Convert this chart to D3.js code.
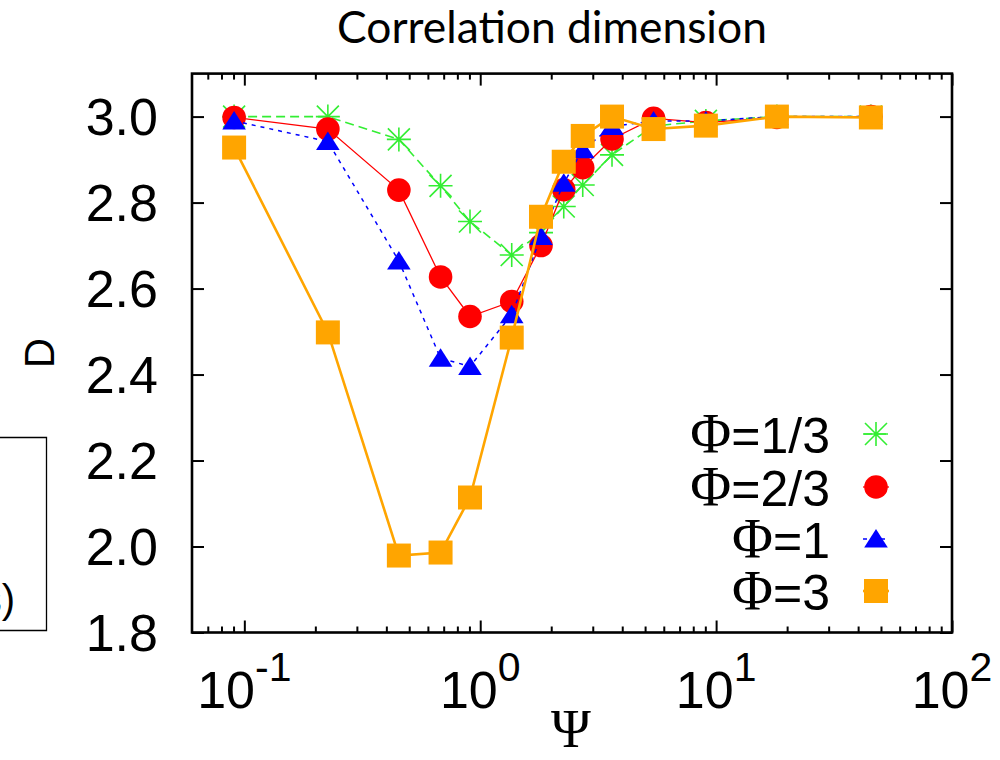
<!DOCTYPE html>
<html>
<head>
<meta charset="utf-8">
<script src="https://cdn.jsdelivr.net/npm/d3@7"></script>
<style>
  body { margin: 0; background: #fff; }
  svg { display: block; }
</style>
</head>
<body>
<div id="chart"></div>
<script>
// Data
const psi = [0.0905, 0.226, 0.452, 0.679, 0.905, 1.36, 1.81, 2.26, 2.72, 3.62, 5.43, 9.05, 18.1, 45.3];
const phi13 = [3.0, 3.0, 2.947, 2.839, 2.756, 2.678, 2.73, 2.791, 2.841, 2.911, 2.978, 2.99, 3.0, 3.0];
const phi23 = [2.998, 2.971, 2.829, 2.627, 2.535, 2.570, 2.700, 2.830, 2.881, 2.948, 2.996, 2.986, 2.998, 3.0];
const phi1 = [2.99, 2.942, 2.664, 2.438, 2.419, 2.539, 2.721, 2.845, 2.923, 2.977, 2.99, 2.99, 3.0, 3.0];
const phi3 = [2.928, 2.498, 1.979, 1.986, 2.114, 2.486, 2.767, 2.895, 2.955, 3.0, 2.971, 2.979, 3.0, 2.998];

const seriesNames = ["1/3", "2/3", "1", "3"];
const yTicks = [1.8, 2.0, 2.2, 2.4, 2.6, 2.8, 3.0];
const xTickExp = [-1, 0, 1, 2];

const svgWidth = 1000;
const svgHeight = 760;
const plot = { left: 192, right: 952, top: 73.6, bottom: 632.5 };

const svg = d3.select("#chart")
  .append("svg")
  .attr("width", svgWidth)
  .attr("height", svgHeight);

svg.append("rect").attr("width", svgWidth).attr("height", svgHeight).attr("fill", "#fff");

const x = d3.scaleLog().domain([0.06, 100]).range([plot.left, plot.right]);
const y = d3.scaleLinear().domain([1.8, 3.1]).range([plot.bottom, plot.top]);

const sans = "'Liberation Sans', Arial, sans-serif";
const serif = "'Liberation Serif', 'Times New Roman', serif";

// title
const title = svg.append("text")
  .attr("x", 552).attr("y", 43)
  .attr("text-anchor", "middle")
  .style("font-family", "Lato, 'Open Sans', sans-serif")
  .style("font-size", "44px")
  .text("Correlation dimension");
const tw = title.node().getComputedTextLength();
title.style("font-size", (44 * 430 / tw) + "px");

// leftover box of neighbouring panel
svg.append("path")
  .attr("d", "M-5,437.5H46.5V630.5H-5")
  .attr("fill", "none").attr("stroke", "#000").attr("stroke-width", 1.3);
svg.append("text")
  .attr("x", 15).attr("y", 613)
  .attr("text-anchor", "end")
  .style("font-family", sans).style("font-size", "40px")
  .text("s)");

// minor x tick values
const minor = [];
for (let e = -2; e <= 1; e++) {
  for (let m = 2; m <= 9; m++) {
    const v = m * Math.pow(10, e);
    if (v > 0.06 && v < 100) minor.push(v);
  }
}

function tickStyle(g) {
  g.select(".domain").remove();
  g.selectAll("line").attr("stroke", "#000").attr("stroke-width", 2);
  g.selectAll("text").remove();
}

// x axes (bottom and top), inward ticks
svg.append("g").attr("transform", `translate(0,${plot.bottom})`)
  .call(d3.axisBottom(x).tickValues(xTickExp.map(e => Math.pow(10, e))).tickSize(-12)).call(tickStyle);
svg.append("g").attr("transform", `translate(0,${plot.bottom})`)
  .call(d3.axisBottom(x).tickValues(minor).tickSize(-6)).call(tickStyle);
svg.append("g").attr("transform", `translate(0,${plot.top})`)
  .call(d3.axisTop(x).tickValues(xTickExp.map(e => Math.pow(10, e))).tickSize(-12)).call(tickStyle);
svg.append("g").attr("transform", `translate(0,${plot.top})`)
  .call(d3.axisTop(x).tickValues(minor).tickSize(-6)).call(tickStyle);

// y axes (left and right)
svg.append("g").attr("transform", `translate(${plot.left},0)`)
  .call(d3.axisLeft(y).tickValues(yTicks).tickSize(-12)).call(tickStyle);
svg.append("g").attr("transform", `translate(${plot.right},0)`)
  .call(d3.axisRight(y).tickValues(yTicks).tickSize(-12)).call(tickStyle);

// frame
svg.append("rect")
  .attr("x", plot.left).attr("y", plot.top)
  .attr("width", plot.right - plot.left).attr("height", plot.bottom - plot.top)
  .attr("fill", "none").attr("stroke", "#000").attr("stroke-width", 2.6);

// y tick labels
svg.append("g").selectAll("text")
  .data(yTicks)
  .join("text")
  .attr("x", 158)
  .attr("y", d => y(d) + 18.5)
  .attr("text-anchor", "end")
  .style("font-family", sans).style("font-size", "52px")
  .text(d => d3.format(".1f")(d));

// x tick labels 10^e
const xl = svg.append("g").selectAll("text")
  .data(xTickExp)
  .join("text")
  .attr("x", d => x(Math.pow(10, d)))
  .attr("y", 708)
  .attr("text-anchor", "middle")
  .style("font-family", sans).style("font-size", "52px");
xl.append("tspan").text("10");
xl.append("tspan").attr("dy", -27).style("font-size", "41px").text(d => d < 0 ? "-" + (-d) : d);

// axis labels
svg.append("text")
  .attr("x", 571).attr("y", 747)
  .attr("text-anchor", "middle")
  .style("font-family", serif).style("font-size", "54px")
  .text("Ψ");
svg.append("text")
  .attr("transform", "translate(54,353) rotate(-90)")
  .attr("text-anchor", "middle")
  .style("font-family", sans).style("font-size", "42px")
  .text("D");

// marker shapes
function drawMarker(g, type, color) {
  if (type === "star") {
    g.append("path")
      .attr("d", "M-12,0H12M0,-12V12M-11,-11L11,11M-11,11L11,-11")
      .attr("stroke", color).attr("stroke-width", 1.6).attr("fill", "none");
  } else if (type === "circle") {
    g.append("circle").attr("r", 11.8).attr("fill", color);
  } else if (type === "triangle") {
    g.append("path").attr("d", "M0,-10L11.8,8.5H-11.8Z").attr("fill", color);
  } else {
    g.append("rect").attr("x", -12).attr("y", -12).attr("width", 24).attr("height", 24).attr("fill", color);
  }
}

const series = [
  { name: seriesNames[0], values: phi13, color: "#33ee33", width: 1.6, dash: "9,5", marker: "star" },
  { name: seriesNames[1], values: phi23, color: "#ff0000", width: 1.3, dash: null, marker: "circle" },
  { name: seriesNames[2], values: phi1, color: "#0000ff", width: 1.5, dash: "4,5", marker: "triangle" },
  { name: seriesNames[3], values: phi3, color: "#ffa500", width: 2.6, dash: null, marker: "square" }
];

const line = d3.line().x(d => x(d[0])).y(d => y(d[1]));

series.forEach(s => {
  const pts = psi.map((p, i) => [p, s.values[i]]);
  svg.append("path")
    .datum(pts)
    .attr("d", line)
    .attr("fill", "none")
    .attr("stroke", s.color)
    .attr("stroke-width", s.width)
    .attr("stroke-dasharray", s.dash);
  svg.append("g").selectAll("g")
    .data(pts)
    .join("g")
    .attr("transform", d => `translate(${x(d[0])},${y(d[1])})`)
    .each(function() { drawMarker(d3.select(this), s.marker, s.color); });
});

// legend
const legendBase = [453, 506, 558, 610];
series.forEach((s, i) => {
  const by = legendBase[i];
  const t = svg.append("text")
    .attr("x", 830).attr("y", by)
    .attr("text-anchor", "end")
    .style("font-family", sans).style("font-size", "50px");
  t.append("tspan").style("font-family", serif).style("font-size", "56px").text("Φ");
  t.append("tspan").text("=" + s.name);
  const cy = by - 19;
  svg.append("line")
    .attr("x1", 863).attr("x2", 889).attr("y1", cy).attr("y2", cy)
    .attr("stroke", s.color).attr("stroke-width", s.width)
    .attr("stroke-dasharray", s.dash);
  const g = svg.append("g").attr("transform", `translate(876,${cy})`);
  drawMarker(g, s.marker, s.color);
});
</script>
</body>
</html>
